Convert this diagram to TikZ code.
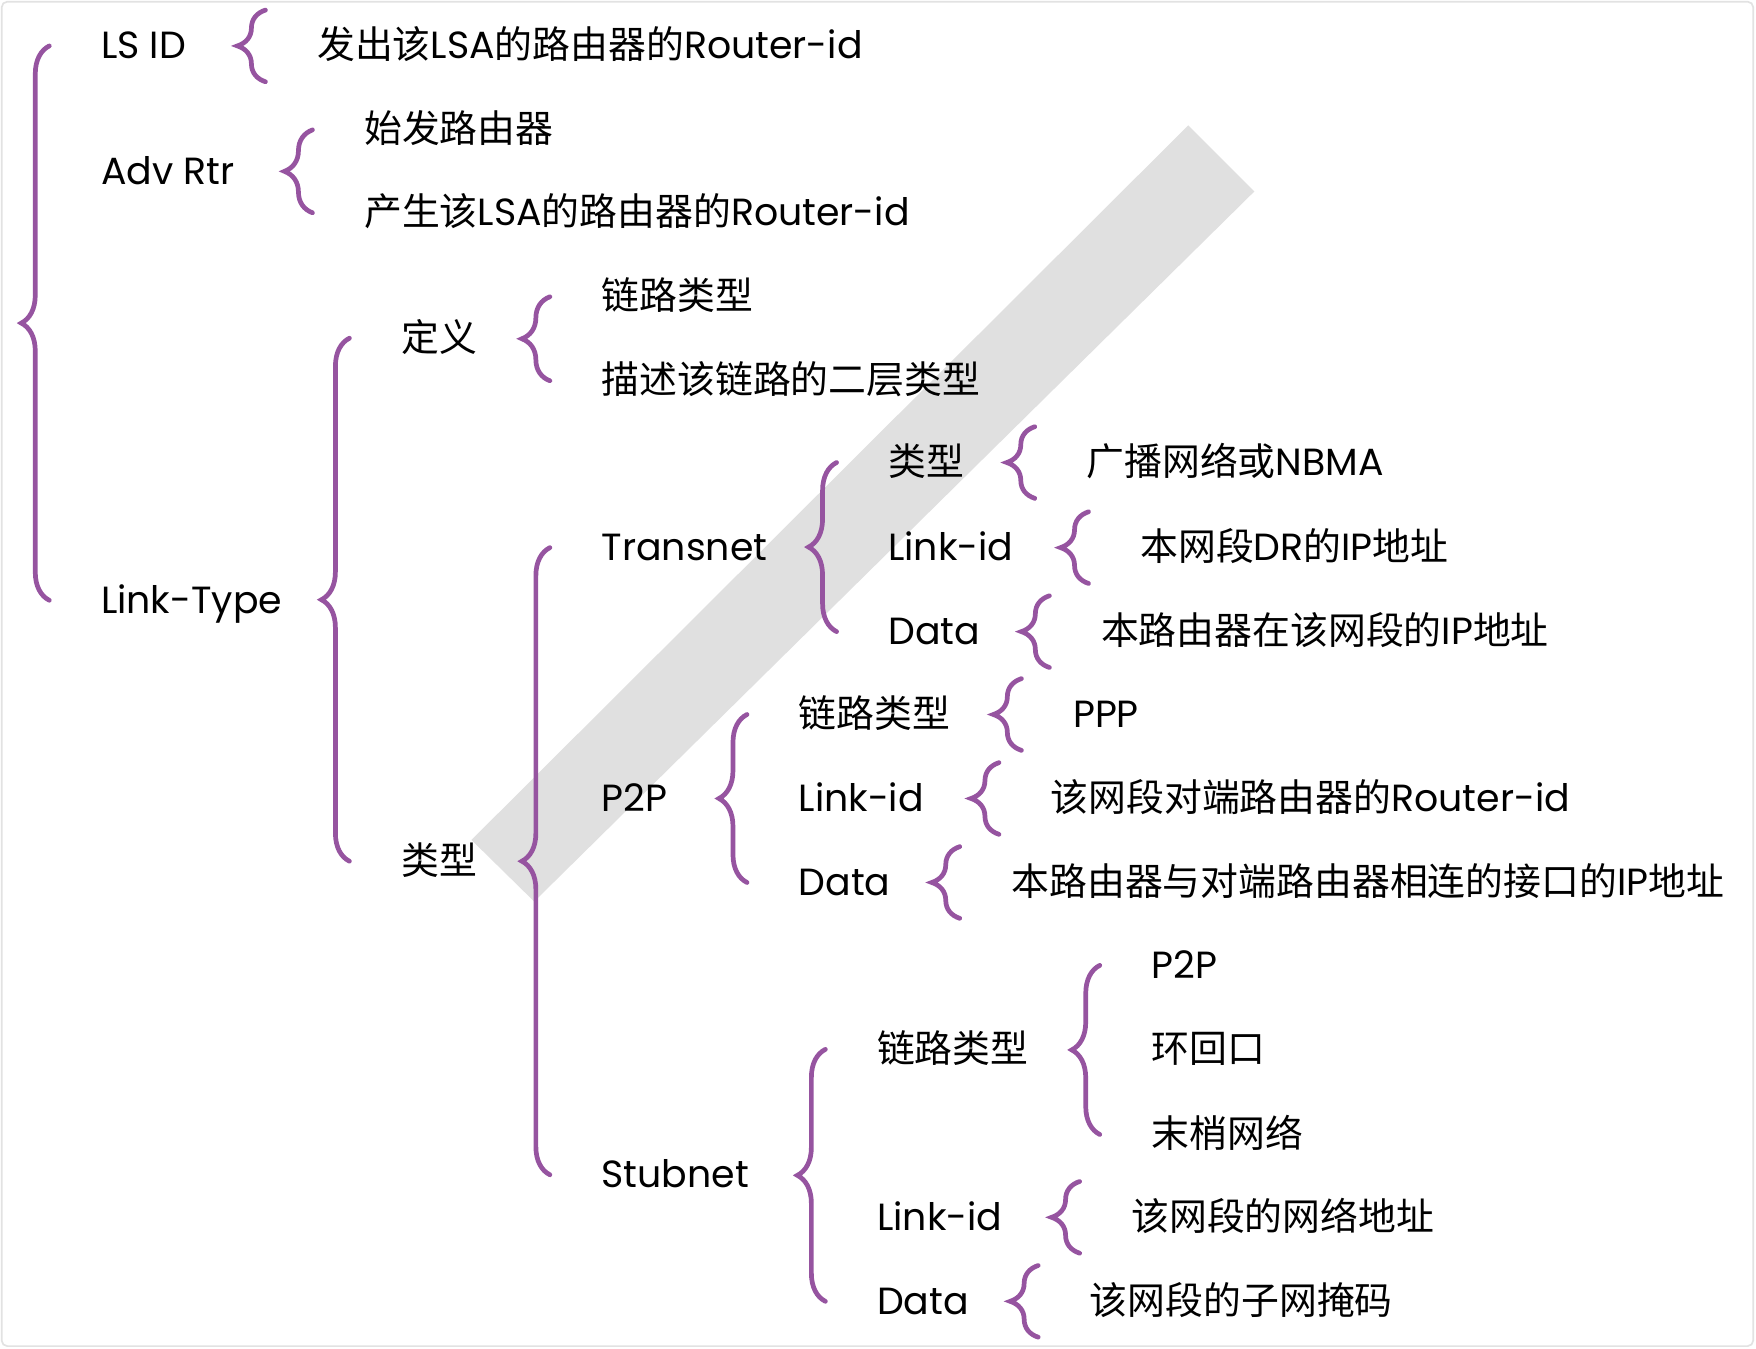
\documentclass[tikz,border=0pt]{standalone}
\usepackage{fontspec}
\setmainfont{Poppins}
\newfontfamily\cjk{Noto Sans CJK SC}
\usetikzlibrary{decorations.pathreplacing}
% CJK characters switch to the CJK font
\XeTeXinterchartokenstate=1
\newXeTeXintercharclass\cjkclass
\count255="4E00
\loop\ifnum\count255<"A000
  \XeTeXcharclass\count255=\cjkclass
  \advance\count255 by 1
\repeat
\XeTeXinterchartoks 0 \cjkclass={\begingroup\cjk}
\XeTeXinterchartoks 4095 \cjkclass={\begingroup\cjk}
\XeTeXinterchartoks \cjkclass 0={\endgroup}
\XeTeXinterchartoks \cjkclass 4095={\endgroup}
\definecolor{lsapurple}{RGB}{150,84,160}
\definecolor{bandgray}{RGB}{224,224,224}
\definecolor{framegray}{RGB}{226,226,226}

\begin{document}
\begin{tikzpicture}[x=1pt,y=-1pt,
    every node/.style={anchor=west, inner sep=0pt, text height=24pt, text depth=1pt,
        font=\fontsize{33.8}{40}\selectfont},
    brc/.style={draw=lsapurple, line width=4.2pt, line cap=round,
        decorate, decoration={brace, amplitude=25pt}}]
    \useasboundingbox (0,0) rectangle (1568,1204);
    \fill[white] (0,0) rectangle (1568,1204);
    \draw[framegray, line width=1.5pt, rounded corners=5pt] (1.5,1.5) rectangle (1565.5,1202);
    \fill[bandgray] (1061,112) -- (1120,171) -- (477,805) -- (421,750) -- cycle;

    % first level
    \node (lsid) at (90,41) {LS ID};
    \node (adv) at (90,153) {Adv Rtr};
    \node (lt) at (90,536) {Link-Type};
    \node (lsidv) at (283,41) {发出该LSA的路由器的Router-id};
    \node (adva) at (325,116) {始发路由器};
    \node (advb) at (325,190) {产生该LSA的路由器的Router-id};
    % Link-Type
    \node (def) at (358,302) {定义};
    \node (typ) at (358,769) {类型};
    \node (defa) at (537,265) {链路类型};
    \node (defb) at (537,340) {描述该链路的二层类型};
    \node (trans) at (537,489) {Transnet};
    \node (ptp) at (537,713) {P2P};
    \node (stub) at (537,1049) {Stubnet};
    % Transnet
    \node (ttyp) at (793,413) {类型};
    \node (tlid) at (793,489) {Link-id};
    \node (tdat) at (793,564) {Data};
    \node (ttypv) at (970,413) {广播网络或NBMA};
    \node (tlidv) at (1018,489) {本网段DR的IP地址};
    \node (tdatv) at (983,564) {本路由器在该网段的IP地址};
    % P2P
    \node (ptyp) at (713,638) {链路类型};
    \node (plid) at (713,713) {Link-id};
    \node (pdat) at (713,788) {Data};
    \node (ptypv) at (958,638) {PPP};
    \node (plidv) at (938,713) {该网段对端路由器的Router-id};
    \node (pdatv) at (903,788) {本路由器与对端路由器相连的接口的IP地址};
    % Stubnet
    \node (styp) at (783,937) {链路类型};
    \node (slid) at (783,1087) {Link-id};
    \node (sdat) at (783,1162) {Data};
    \node (stypa) at (1028,862) {P2P};
    \node (stypb) at (1028,937) {环回口};
    \node (stypc) at (1028,1013) {末梢网络};
    \node (slidv) at (1010,1087) {该网段的网络地址};
    \node (sdatv) at (973,1162) {该网段的子网掩码};

    % braces
    \draw[brc] ([xshift=-46pt]lt.west) -- ([xshift=-46pt]lsid.west);
    \draw[brc] ([xshift=-46pt,yshift=-32pt]lsidv.west) -- ([xshift=-46pt,yshift=32pt]lsidv.west);
    \draw[brc] ([xshift=-46pt]advb.west) -- ([xshift=-46pt]adva.west);
    \draw[brc] ([xshift=-46pt]typ.west) -- ([xshift=-46pt]def.west);
    \draw[brc] ([xshift=-46pt]defb.west) -- ([xshift=-46pt]defa.west);
    \draw[brc] ([xshift=-46pt]stub.west) -- ([xshift=-46pt]trans.west);
    \draw[brc] ([xshift=-46pt]tdat.west) -- ([xshift=-46pt]ttyp.west);
    \draw[brc] ([xshift=-46pt,yshift=-32pt]ttypv.west) -- ([xshift=-46pt,yshift=32pt]ttypv.west);
    \draw[brc] ([xshift=-46pt,yshift=-32pt]tlidv.west) -- ([xshift=-46pt,yshift=32pt]tlidv.west);
    \draw[brc] ([xshift=-46pt,yshift=-32pt]tdatv.west) -- ([xshift=-46pt,yshift=32pt]tdatv.west);
    \draw[brc] ([xshift=-46pt]pdat.west) -- ([xshift=-46pt]ptyp.west);
    \draw[brc] ([xshift=-46pt,yshift=-32pt]ptypv.west) -- ([xshift=-46pt,yshift=32pt]ptypv.west);
    \draw[brc] ([xshift=-46pt,yshift=-32pt]plidv.west) -- ([xshift=-46pt,yshift=32pt]plidv.west);
    \draw[brc] ([xshift=-46pt,yshift=-32pt]pdatv.west) -- ([xshift=-46pt,yshift=32pt]pdatv.west);
    \draw[brc] ([xshift=-46pt]sdat.west) -- ([xshift=-46pt]styp.west);
    \draw[brc] ([xshift=-46pt]stypc.west) -- ([xshift=-46pt]stypa.west);
    \draw[brc] ([xshift=-46pt,yshift=-32pt]slidv.west) -- ([xshift=-46pt,yshift=32pt]slidv.west);
    \draw[brc] ([xshift=-46pt,yshift=-32pt]sdatv.west) -- ([xshift=-46pt,yshift=32pt]sdatv.west);
\end{tikzpicture}
\end{document}
